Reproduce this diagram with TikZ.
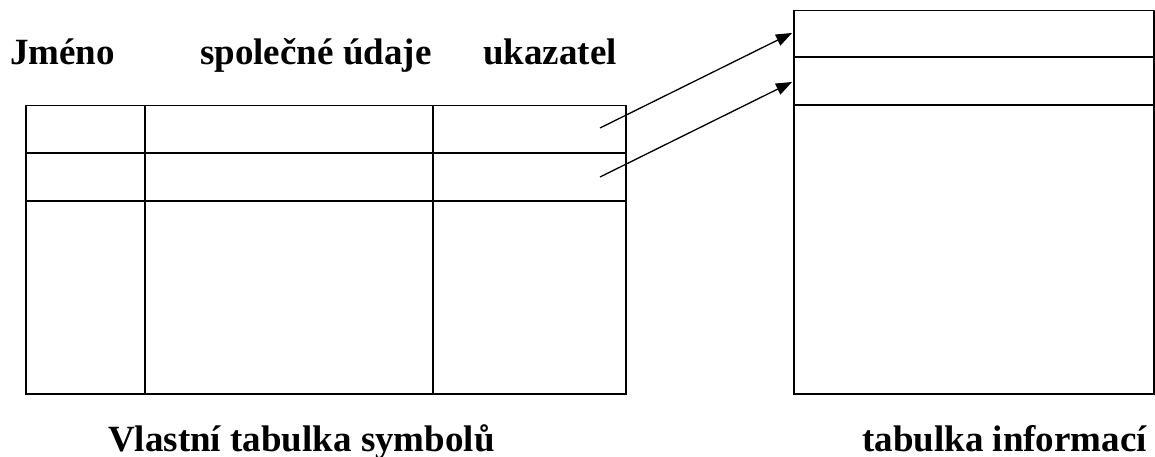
\documentclass[tikz,border=0pt]{standalone}
\usepackage{fontspec}
\setmainfont{Liberation Serif}
\usetikzlibrary{arrows.meta}
\begin{document}
\begin{tikzpicture}[x=1pt,y=-1pt,
  grid/.style={draw=black,line width=1.5pt},
  label/.style={inner sep=0pt,anchor=base west,font=\fontsize{37}{44}\selectfont\bfseries},
  pointer/.style={line width=1.3pt,-{Triangle[length=16pt,width=12pt]}}]
\useasboundingbox (0,0) rectangle (1155,457);

% headings above the symbol table
\node[label] (jmeno) at (10,65) {Jméno};
\node[label] (udaje) at (200,65) {společné údaje};
\node[label] (ukaz)  at (483,65) {ukazatel};

% symbol table: outline, row and column rules
\node[grid,inner sep=0pt,minimum width=600pt,minimum height=288pt,anchor=north west] (sym) at (25,105) {};
\draw[grid] (25,153) -- (625,153);
\draw[grid] (25,201) -- (625,201);
\draw[grid] (145,105) -- (145,393);
\draw[grid] (433,105) -- (433,393);

% information table
\node[grid,inner sep=0pt,minimum width=360pt,minimum height=383pt,anchor=north west] (info) at (793,10) {};
\draw[grid] (793,57) -- (1153,57);
\draw[grid] (793,105) -- (1153,105);

% captions
\node[label] (capsym)  at (108,451) {Vlastní tabulka symbolů};
\node[label] (capinfo) at (862,451) {tabulka informací};

% pointers from the symbol table into the information table
\coordinate (p1) at (600,128);
\coordinate (p2) at (600,177);
\coordinate (t1) at (792,33);
\coordinate (t2) at (792,82);
\draw[pointer] (p1) -- (t1);
\draw[pointer] (p2) -- (t2);
\end{tikzpicture}
\end{document}
